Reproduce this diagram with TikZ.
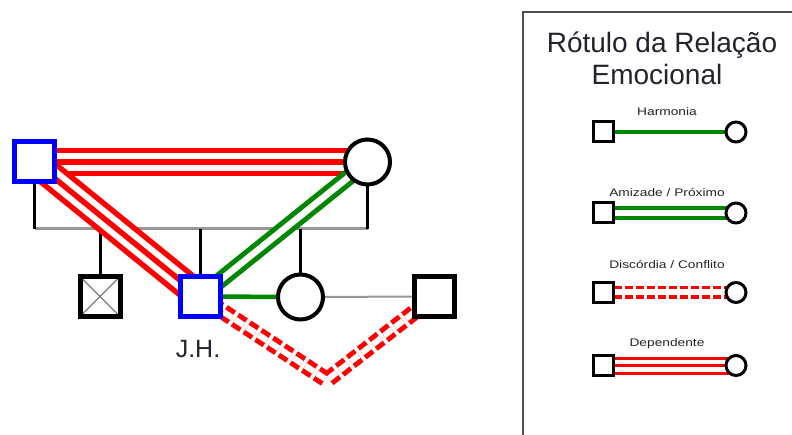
\documentclass[tikz,border=0pt]{standalone}
\usepackage{fontspec}
\setmainfont{Liberation Sans}
\usetikzlibrary{backgrounds}

\definecolor{relred}{RGB}{255,0,0}
\definecolor{relgreen}{RGB}{0,135,0}
\definecolor{indexblue}{RGB}{0,0,255}
\definecolor{sibgray}{RGB}{150,150,150}
\definecolor{framegray}{RGB}{80,80,80}
\definecolor{textdark}{RGB}{35,35,45}

\begin{document}
\begin{tikzpicture}[x=1pt,y=-1pt,
  male/.style={rectangle, draw=black, fill=white, line width=5pt,
    minimum size=40pt, inner sep=0pt, outer sep=0pt},
  female/.style={circle, draw=black, fill=white, line width=4pt,
    minimum size=45pt, inner sep=0pt, outer sep=0pt},
  indexperson/.style={draw=indexblue},
  deceased/.style={path picture={
    \draw[gray, line width=1.2pt]
      (path picture bounding box.north west) -- (path picture bounding box.south east)
      (path picture bounding box.north east) -- (path picture bounding box.south west);}},
  dropline/.style={black, line width=3pt},
  sibline/.style={sibgray, line width=3pt},
  partnerline/.style={sibgray, line width=2pt},
  harmony/.style={relgreen, line width=4.5pt},
  closeness/.style={relgreen, line width=5pt, double=white, double distance=6.5pt},
  conflict/.style={relred, line width=5pt, double=white, double distance=6pt,
    dash pattern=on 10pt off 4pt},
  dependence/.style={relred, line width=5.5pt,
    preaction={draw=relred, line width=5.5pt, double=white, double distance=17.5pt}},
  lsq/.style={rectangle, draw=black, fill=white, line width=3pt,
    minimum size=20pt, inner sep=0pt, outer sep=0pt},
  lcirc/.style={circle, draw=black, fill=white, line width=3pt,
    minimum size=20pt, inner sep=0pt, outer sep=0pt},
  lharmony/.style={relgreen, line width=3.5pt},
  lcloseness/.style={relgreen, line width=3.5pt, double=white, double distance=6.5pt},
  lconflict/.style={relred, line width=3.5pt, double=white, double distance=6pt,
    dash pattern=on 8pt off 3pt},
  ldependence/.style={relred, line width=3pt,
    preaction={draw=relred, line width=3pt, double=white, double distance=12pt}},
  lbl/.style={anchor=base, inner sep=0pt, text=textdark,
    font=\fontsize{11}{13}\selectfont},
  title/.style={anchor=base, inner sep=0pt, text=textdark,
    font=\fontsize{28}{32}\selectfont}
]
\useasboundingbox (0,0) rectangle (792,435);

% ---- family members ----
\node[male, indexperson] (fa) at (34.5,162) {};
\node[female] (mo) at (367.5,162) {};
\node[male, deceased] (c1) at (100,296.5) {};
\node[male, indexperson] (jh) at (200,296.5) {};
\node[female] (da) at (300.5,297) {};
\node[male] (sp) at (434.5,296.5) {};
\node[anchor=base, inner sep=0pt, text=textdark,
  font=\fontsize{25}{28}\selectfont] (jhl) at (198,357) {J.H.};
\coordinate (sib) at (0,229);
\coordinate (vtip) at (327,380);

\begin{scope}[on background layer]
  % sibship line and descent lines
  \draw[sibline] (fa.south |- sib) -- (mo.south |- sib);
  \draw[dropline] (fa.south) -- (fa.south |- sib);
  \draw[dropline] (mo.south) -- (mo.south |- sib);
  \draw[dropline] (c1.north |- sib) -- (c1.north);
  \draw[dropline] (jh.north |- sib) -- (jh.north);
  \draw[dropline] (da.north |- sib) -- (da.north);
  \draw[partnerline] (da.center) -- (sp.center);
  % emotional relations
  \draw[dependence] (fa.center) -- (mo.center);
  \draw[dependence] (fa.center) -- (jh.center);
  \draw[closeness] (jh.center) -- (mo.center);
  \draw[harmony] (jh.center) -- (da.center);
  \draw[conflict] (jh.center) -- (vtip) -- (sp.center);
\end{scope}

% ---- legend ----
\draw[framegray, line width=1.5pt] (523,12) rectangle (806,446);
\node[title] (t1) at (662,53) {Rótulo da Relação};
\node[title] (t2) at (657,85) {Emocional};

\node[lbl] (l1) at (667,116) {\scalebox{1.25}[1]{Harmonia}};
\node[lsq] (s1) at (603,132) {};
\node[lcirc] (k1) at (736,132) {};

\node[lbl] (l2) at (667,197) {\scalebox{1.25}[1]{Amizade / Próximo}};
\node[lsq] (s2) at (603,213) {};
\node[lcirc] (k2) at (736,213) {};

\node[lbl] (l3) at (667,269) {\scalebox{1.25}[1]{Discórdia / Conflito}};
\node[lsq] (s3) at (603,292.5) {};
\node[lcirc] (k3) at (736,292.5) {};

\node[lbl] (l4) at (667,347) {\scalebox{1.25}[1]{Dependente}};
\node[lsq] (s4) at (603,365.5) {};
\node[lcirc] (k4) at (736,365.5) {};

\begin{scope}[on background layer]
  \draw[lharmony] (s1.center) -- (k1.center);
  \draw[lcloseness] (s2.center) -- (k2.center);
  \draw[lconflict] (s3.center) -- (k3.center);
  \draw[ldependence] (s4.center) -- (k4.center);
\end{scope}
\end{tikzpicture}
\end{document}
